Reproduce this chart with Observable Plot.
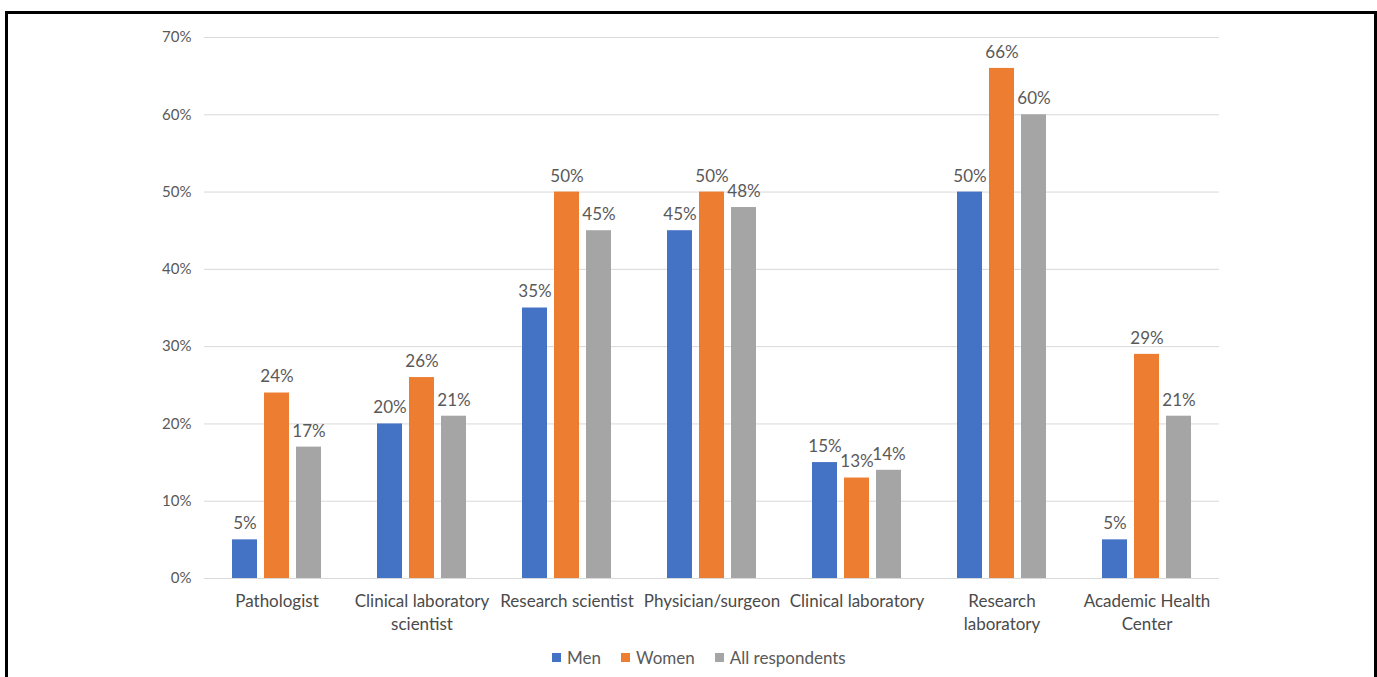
<!DOCTYPE html>
<html>
<head>
<meta charset="utf-8">
<script src="https://cdn.jsdelivr.net/npm/d3@7"></script>
<script src="https://cdn.jsdelivr.net/npm/@observablehq/plot@0.6"></script>
<style>
  html, body { margin: 0; padding: 0; background: #fff; overflow: hidden; }
  #wrap { position: relative; width: 1377px; height: 677px; font-family: Lato, "Open Sans", sans-serif; }
  #frame { position: absolute; left: 5px; top: 11px; width: 1372px; height: 700px; border: 3px solid #000; box-sizing: border-box; pointer-events: none; }
  #chart { position: absolute; left: 0; top: 0; }
  #legend { position: absolute; left: 552px; top: 647px; display: flex; gap: 20px; font-size: 17px; color: #595959; align-items: center; }
  #legend .item { display: flex; align-items: center; gap: 6px; }
  #legend .sw { width: 9px; height: 9px; display: inline-block; }
</style>
</head>
<body>
<div id="wrap">
  <div id="chart"></div>
  <div id="legend"></div>
  <div id="frame"></div>
</div>
<script>
const categories = ["Pathologist", "Clinical laboratory scientist", "Research scientist", "Physician/surgeon", "Clinical laboratory", "Research laboratory", "Academic Health Center"];
const categoryLabels = ["Pathologist", "Clinical laboratory\nscientist", "Research scientist", "Physician/surgeon", "Clinical laboratory", "Research\nlaboratory", "Academic Health\nCenter"];
const series = ["Men", "Women", "All respondents"];
const men = [5, 20, 35, 45, 15, 50, 5];
const women = [24, 26, 50, 50, 13, 66, 29];
const allRespondents = [17, 21, 45, 48, 14, 60, 21];
const colors = ["#4472C4", "#ED7D31", "#A5A5A5"];
const yTicks = [0, 10, 20, 30, 40, 50, 60, 70];

const valuesBySeries = [men, women, allRespondents];
const data = [];
categories.forEach((c, i) => {
  series.forEach((s, j) => data.push({category: c, series: s, value: valuesBySeries[j][i]}));
});
const labelMap = new Map(categories.map((c, i) => [c, categoryLabels[i]]));

const chart = Plot.plot({
  width: 1377,
  height: 640,
  marginTop: 37,
  marginBottom: 62,
  marginLeft: 203,
  marginRight: 157,
  style: {fontFamily: "Lato, 'Open Sans', sans-serif", background: "transparent"},
  fx: {domain: categories, padding: 0, label: null},
  x: {domain: series, paddingInner: 0.22, paddingOuter: 0.86, axis: null},
  y: {domain: [0, 70], label: null},
  color: {domain: series, range: colors},
  marks: [
    Plot.gridY(yTicks, {stroke: "#d9d9d9", strokeOpacity: 1}),
    Plot.axisY(yTicks, {tickSize: 0, tickPadding: 13, tickFormat: d => d + "%", fontSize: 15, fill: "#595959", label: null}),
    Plot.axisFx({anchor: "bottom", tickSize: 0, tickPadding: 12, tickFormat: c => labelMap.get(c), fontSize: 17, lineHeight: 1.35, fill: "#4a4a4a", label: null}),
    Plot.barY(data, {fx: "category", x: "series", y: "value", fill: "series"}),
    Plot.text(data, {fx: "category", x: "series", y: "value", text: d => d.value + "%", dy: -16, fontSize: 17, fill: "#595959"})
  ]
});
document.getElementById("chart").appendChild(chart);

const legend = document.getElementById("legend");
series.forEach((s, i) => {
  const item = document.createElement("div");
  item.className = "item";
  const sw = document.createElement("span");
  sw.className = "sw";
  sw.style.background = colors[i];
  const t = document.createElement("span");
  t.textContent = s;
  item.appendChild(sw);
  item.appendChild(t);
  legend.appendChild(item);
});
</script>
</body>
</html>
